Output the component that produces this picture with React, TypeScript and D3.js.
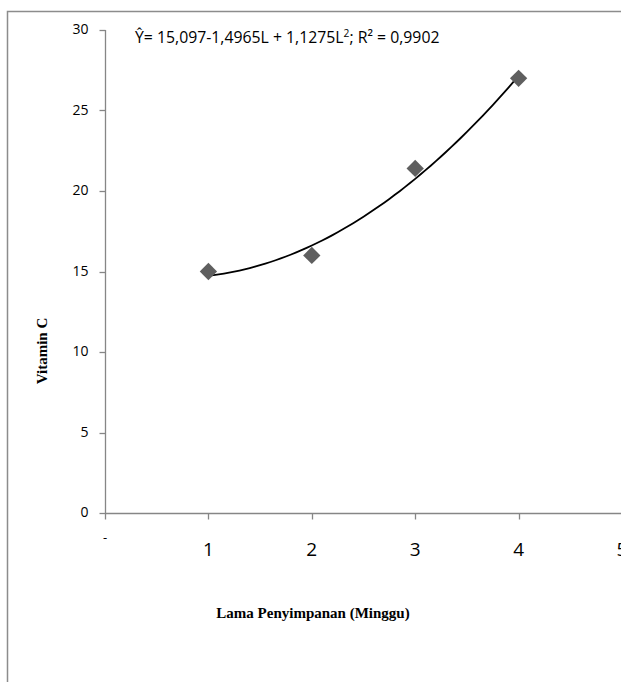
import React, { useEffect, useRef } from 'react';
import * as d3 from 'd3';

// data
const weeks = [1, 2, 3, 4];
const vitaminC = [15.0, 16.0, 21.4, 27.0];
const yTicks = [0, 5, 10, 15, 20, 25, 30];
const xTicks = [0, 1, 2, 3, 4, 5];
const xTickLabels = ['-', '1', '2', '3', '4', '5'];
// trendline coefficients from the equation label (c0 + c1 L + c2 L^2)
const trendCoefs = [15.097, -1.4965, 1.1275];

const W = 621;
const H = 682;

const App = () => {
  const svgRef = useRef(null);

  useEffect(() => {
    const svg = d3.select(svgRef.current);
    svg.selectAll('*').remove();

    const x = d3.scaleLinear().domain([0, 5]).range([105, 622]);
    const y = d3.scaleLinear().domain([0, 30]).range([513, 30]);
    const axisColor = '#868686';

    // outer frame (only top and left visible)
    svg.append('path')
      .attr('d', `M7.5,${H} L7.5,11.5 L${W},11.5`)
      .attr('fill', 'none')
      .attr('stroke', '#8c8c8c')
      .attr('stroke-width', 1.5);

    // y axis
    const yAxis = svg.append('g').attr('transform', 'translate(105.5,0)');
    yAxis.append('line')
      .attr('y1', y(30)).attr('y2', y(0))
      .attr('stroke', axisColor).attr('stroke-width', 1.3);
    yAxis.selectAll('.yt')
      .data(yTicks)
      .enter()
      .append('line')
      .attr('x1', -6).attr('x2', 0)
      .attr('y1', d => Math.round(y(d)) + 0.5)
      .attr('y2', d => Math.round(y(d)) + 0.5)
      .attr('stroke', axisColor).attr('stroke-width', 1.3);
    yAxis.selectAll('.yl')
      .data(yTicks)
      .enter()
      .append('text')
      .attr('x', -17)
      .attr('y', d => y(d) + 4)
      .attr('text-anchor', 'end')
      .attr('font-family', 'Open Sans, sans-serif')
      .attr('font-size', 14)
      .attr('fill', '#000')
      .text(d => d);

    // x axis
    const xAxis = svg.append('g').attr('transform', 'translate(0,513.5)');
    xAxis.append('line')
      .attr('x1', x(0)).attr('x2', W)
      .attr('stroke', axisColor).attr('stroke-width', 1.3);
    xAxis.selectAll('.xt')
      .data(xTicks)
      .enter()
      .append('line')
      .attr('x1', d => Math.round(x(d)) + 0.5)
      .attr('x2', d => Math.round(x(d)) + 0.5)
      .attr('y1', 0).attr('y2', 6)
      .attr('stroke', axisColor).attr('stroke-width', 1.3);
    xAxis.selectAll('.xl')
      .data(xTicks)
      .enter()
      .append('text')
      .attr('x', d => x(d))
      .attr('y', (d, i) => (i === 0 ? 28 : 42))
      .attr('text-anchor', 'middle')
      .attr('font-family', 'Open Sans, sans-serif')
      .attr('font-size', (d, i) => (i === 0 ? 13 : 19))
      .attr('fill', '#000')
      .text((d, i) => xTickLabels[i]);

    // trendline
    const poly = (l: number) => trendCoefs[0] + trendCoefs[1] * l + trendCoefs[2] * l * l;
    const samples = d3.range(weeks[0], weeks[weeks.length - 1] + 0.001, 0.05);
    const line = d3.line<number>()
      .x(l => x(l))
      .y(l => y(poly(l)));
    svg.append('path')
      .datum(samples)
      .attr('d', line)
      .attr('fill', 'none')
      .attr('stroke', '#000')
      .attr('stroke-width', 1.8);

    // markers
    const sym = d3.symbol().type(d3.symbolSquare).size(150);
    svg.selectAll('.pt')
      .data(weeks)
      .enter()
      .append('path')
      .attr('d', sym)
      .attr('transform', (d, i) => `translate(${x(d)},${y(vitaminC[i])}) rotate(45)`)
      .attr('fill', '#5f5f5f');

    // equation (narrowed a bit, the original is Calibri)
    const eq = svg.append('text')
      .attr('transform', 'translate(135,43) scale(0.93,1)')
      .attr('font-family', 'Open Sans, sans-serif')
      .attr('font-size', 17)
      .attr('fill', '#000');
    eq.append('tspan').text('Ŷ= 15,097-1,4965L + 1,1275L');
    eq.append('tspan').attr('dy', -6).attr('font-size', 11).text('2');
    eq.append('tspan').attr('dy', 6).text('; R² = 0,9902');

    // axis titles
    svg.append('text')
      .attr('transform', 'translate(47,351) rotate(-90)')
      .attr('text-anchor', 'middle')
      .attr('font-family', 'Liberation Serif, Times New Roman, serif')
      .attr('font-weight', 'bold')
      .attr('font-size', 15)
      .text('Vitamin C');
    svg.append('text')
      .attr('x', 313)
      .attr('y', 618)
      .attr('text-anchor', 'middle')
      .attr('font-family', 'Liberation Serif, Times New Roman, serif')
      .attr('font-weight', 'bold')
      .attr('font-size', 15)
      .text('Lama Penyimpanan (Minggu)');
  }, []);

  return (
    <svg
      ref={svgRef}
      width={W}
      height={H}
      style={{ position: 'absolute', left: 0, top: 0, background: '#fff' }}
    />
  );
};

export default App;
